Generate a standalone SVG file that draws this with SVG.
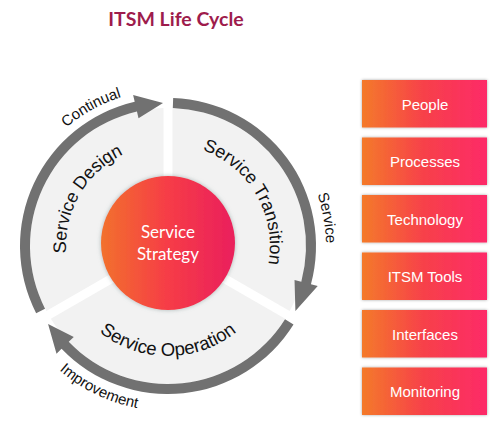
<svg xmlns="http://www.w3.org/2000/svg" width="500" height="426" viewBox="0 0 500 426">
  <style>
    .title { font-family: Lato, "Liberation Sans", sans-serif; font-weight: 700; font-size: 19.5px; fill: #9e1c4c; }
    .sector { fill: #f2f2f2; }
    .seclabel { font-family: "Liberation Sans", Arial, sans-serif; font-size: 18px; fill: #111; }
    .arrow { fill: #717171; }
    .arrlabel { font-family: "Liberation Sans", Arial, sans-serif; font-size: 15px; fill: #111; }
    .box { fill: url(#boxGrad); filter: url(#boxShadow); }
    .boxlabel { font-family: "Liberation Sans", Arial, sans-serif; font-size: 15px; fill: #fff; text-anchor: middle; }
    .core { font-family: Lato, "Open Sans", sans-serif; font-size: 17px; fill: #fff; text-anchor: middle; }
  </style>
  <defs>
    <linearGradient id="boxGrad" x1="0" y1="0" x2="1" y2="0">
      <stop offset="0" stop-color="#f47a2a"/>
      <stop offset="0.5" stop-color="#f7404a"/>
      <stop offset="1" stop-color="#fd2a68"/>
    </linearGradient>
    <linearGradient id="coreGrad" x1="0" y1="0" x2="1" y2="0">
      <stop offset="0" stop-color="#f2712c"/>
      <stop offset="0.5" stop-color="#f63c47"/>
      <stop offset="1" stop-color="#ea1f5d"/>
    </linearGradient>
    <filter id="boxShadow" x="-10%" y="-20%" width="120%" height="140%">
      <feDropShadow dx="0" dy="0" stdDeviation="1.6" flood-color="#000" flood-opacity="0.35"/>
    </filter>
    <filter id="coreShadow" x="-20%" y="-20%" width="140%" height="140%">
      <feDropShadow dx="0" dy="0" stdDeviation="2" flood-color="#7a9090" flood-opacity="0.6"/>
    </filter>
    <path id="pDesign" d="M 79.67 297 A 102 102 0 0 1 168 144"/>
    <path id="pTransition" d="M 168 144 A 102 102 0 0 1 256.33 297"/>
    <path id="pOperation" d="M 72.74 301 A 110 110 0 0 0 263.26 301"/>
    <path id="pContinual" d="M 22.36 190.09 A 156 156 0 0 1 197.77 92.87"/>
    <path id="pService" d="M 269.56 124.97 A 158 158 0 0 1 304.83 325"/>
    <path id="pImprovement" d="M 17.27 313.11 A 165 165 0 0 0 207.92 406.1"/>
  </defs>

  <rect width="500" height="426" fill="#fff"/>

  <text class="title" x="176" y="26" text-anchor="middle">ITSM Life Cycle</text>

  <g id="service-design">
    <path class="sector" d="M 163.5 243.4 L 46.3 311.07 A 138 138 0 0 1 163.5 108.07 Z"/>
    <text class="seclabel"><textPath href="#pDesign" startOffset="50%" text-anchor="middle">Service Design</textPath></text>
  </g>
  <g id="service-transition">
    <path class="sector" d="M 172.5 243.4 L 172.5 108.07 A 138 138 0 0 1 289.7 311.07 Z"/>
    <text class="seclabel"><textPath href="#pTransition" startOffset="50%" text-anchor="middle">Service Transition</textPath></text>
  </g>
  <g id="service-operation">
    <path class="sector" d="M 168 251.2 L 285.19 318.86 A 138 138 0 0 1 50.81 318.86 Z"/>
    <text class="seclabel" style="font-size:18.5px"><textPath href="#pOperation" startOffset="50%" text-anchor="middle">Service Operation</textPath></text>
  </g>

  <g id="connectors">
    <path class="arrow" d="M 36.13 313.19 A 148 148 0 0 1 134.7 101.79 L 133.12 94.97 L 163.01 103.09 L 138.52 118.35 L 136.95 111.53 A 138 138 0 0 0 45.04 308.65 Z"/>
    <path class="arrow" d="M 173.17 98.09 A 148 148 0 0 1 310.96 284.3 L 317.72 286.12 L 295.41 310.92 L 294.53 279.9 L 301.3 281.72 A 138 138 0 0 0 172.82 108.08 Z"/>
    <path class="arrow" d="M 293.51 324.43 A 148 148 0 0 1 61.54 348.82 L 56.51 353.68 L 48.07 323.88 L 73.77 337.01 L 68.73 341.87 A 138 138 0 0 0 285.03 319.13 Z"/>
    <text class="arrlabel"><textPath href="#pContinual" startOffset="50%" text-anchor="middle">Continual</textPath></text>
    <text class="arrlabel"><textPath href="#pService" startOffset="50%" text-anchor="middle">Service</textPath></text>
    <text class="arrlabel"><textPath href="#pImprovement" startOffset="50%" text-anchor="middle">Improvement</textPath></text>
  </g>

  <g id="service-strategy">
    <circle cx="168" cy="243" r="67" fill="url(#coreGrad)" filter="url(#coreShadow)"/>
    <text class="core" x="168" y="238">Service</text>
    <text class="core" x="168" y="260">Strategy</text>
  </g>

  <g id="people">
    <rect class="box" x="362" y="80" width="125" height="47.5"/>
    <text class="boxlabel" x="425" y="109.5">People</text>
  </g>
  <g id="processes">
    <rect class="box" x="362" y="137.5" width="125" height="47.5"/>
    <text class="boxlabel" x="425" y="167">Processes</text>
  </g>
  <g id="technology">
    <rect class="box" x="362" y="195" width="125" height="47.5"/>
    <text class="boxlabel" x="425" y="224.5">Technology</text>
  </g>
  <g id="itsm-tools">
    <rect class="box" x="362" y="252.5" width="125" height="47.5"/>
    <text class="boxlabel" x="425" y="282">ITSM Tools</text>
  </g>
  <g id="interfaces">
    <rect class="box" x="362" y="310" width="125" height="47.5"/>
    <text class="boxlabel" x="425" y="339.5">Interfaces</text>
  </g>
  <g id="monitoring">
    <rect class="box" x="362" y="367.5" width="125" height="47.5"/>
    <text class="boxlabel" x="425" y="397">Monitoring</text>
  </g>
</svg>
